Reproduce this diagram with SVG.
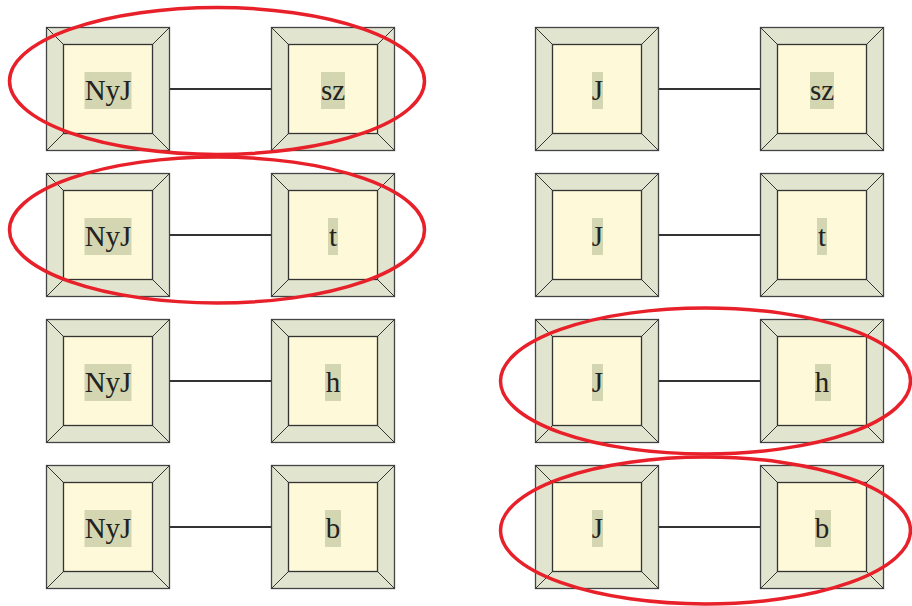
<svg xmlns="http://www.w3.org/2000/svg" xmlns:xlink="http://www.w3.org/1999/xlink" width="912" height="606" viewBox="0 0 912 606">
<style>
.outer{fill:#e1e4cf;stroke:#444;stroke-width:1.3}
.inner{fill:#fef9d8;stroke:#333;stroke-width:1.3}
.diag{stroke:#333;stroke-width:1}
.lbg{fill:#d3d6b0}
.lbl{font-family:"Liberation Serif","DejaVu Serif",serif;font-size:29px;fill:#222;text-anchor:middle}
.edge{stroke:#333;stroke-width:2;fill:none}
.hl{fill:none;stroke:#e8202a;stroke-width:3.5}
</style>
<defs>
<symbol id="box" overflow="visible">
<rect class="outer" x="0" y="0" width="123" height="123"/>
<line class="diag" x1="0" y1="0" x2="17" y2="17"/>
<line class="diag" x1="123" y1="0" x2="106" y2="17"/>
<line class="diag" x1="0" y1="123" x2="17" y2="106"/>
<line class="diag" x1="123" y1="123" x2="106" y2="106"/>
<rect class="inner" x="17" y="17" width="89" height="89"/>
</symbol>
</defs>
<rect width="912" height="606" fill="#fff"/>
<g id="connectors">
<line class="edge" x1="169.5" y1="89" x2="271.5" y2="89"/>
<line class="edge" x1="169.5" y1="235" x2="271.5" y2="235"/>
<line class="edge" x1="169.5" y1="381" x2="271.5" y2="381"/>
<line class="edge" x1="169.5" y1="527" x2="271.5" y2="527"/>
<line class="edge" x1="658.5" y1="89" x2="760.5" y2="89"/>
<line class="edge" x1="658.5" y1="235" x2="760.5" y2="235"/>
<line class="edge" x1="658.5" y1="381" x2="760.5" y2="381"/>
<line class="edge" x1="658.5" y1="527" x2="760.5" y2="527"/>
</g>
<g id="n1"><use href="#box" x="46.5" y="27.5"/><rect class="lbg" x="84.5" y="72" width="47" height="37"/><text class="lbl" x="108" y="100">NyJ</text></g>
<g id="n2"><use href="#box" x="271.5" y="27.5"/><rect class="lbg" x="321" y="72" width="24" height="37"/><text class="lbl" x="333" y="100">sz</text></g>
<g id="n3"><use href="#box" x="46.5" y="173.5"/><rect class="lbg" x="84.5" y="218" width="47" height="37"/><text class="lbl" x="108" y="246">NyJ</text></g>
<g id="n4"><use href="#box" x="271.5" y="173.5"/><rect class="lbg" x="328" y="218" width="10" height="37"/><text class="lbl" x="333" y="246">t</text></g>
<g id="n5"><use href="#box" x="46.5" y="319.5"/><rect class="lbg" x="84.5" y="364" width="47" height="37"/><text class="lbl" x="108" y="392">NyJ</text></g>
<g id="n6"><use href="#box" x="271.5" y="319.5"/><rect class="lbg" x="325" y="364" width="16" height="37"/><text class="lbl" x="333" y="392">h</text></g>
<g id="n7"><use href="#box" x="46.5" y="465.5"/><rect class="lbg" x="84.5" y="510" width="47" height="37"/><text class="lbl" x="108" y="538">NyJ</text></g>
<g id="n8"><use href="#box" x="271.5" y="465.5"/><rect class="lbg" x="325" y="510" width="16" height="37"/><text class="lbl" x="333" y="538">b</text></g>
<g id="n9"><use href="#box" x="535.5" y="27.5"/><rect class="lbg" x="592" y="72" width="11" height="37"/><text class="lbl" x="597.5" y="100">J</text></g>
<g id="n10"><use href="#box" x="760.5" y="27.5"/><rect class="lbg" x="810" y="72" width="24" height="37"/><text class="lbl" x="822" y="100">sz</text></g>
<g id="n11"><use href="#box" x="535.5" y="173.5"/><rect class="lbg" x="592" y="218" width="11" height="37"/><text class="lbl" x="597.5" y="246">J</text></g>
<g id="n12"><use href="#box" x="760.5" y="173.5"/><rect class="lbg" x="817" y="218" width="10" height="37"/><text class="lbl" x="822" y="246">t</text></g>
<g id="n13"><use href="#box" x="535.5" y="319.5"/><rect class="lbg" x="592" y="364" width="11" height="37"/><text class="lbl" x="597.5" y="392">J</text></g>
<g id="n14"><use href="#box" x="760.5" y="319.5"/><rect class="lbg" x="815" y="364" width="16" height="37"/><text class="lbl" x="822" y="392">h</text></g>
<g id="n15"><use href="#box" x="535.5" y="465.5"/><rect class="lbg" x="592" y="510" width="11" height="37"/><text class="lbl" x="597.5" y="538">J</text></g>
<g id="n16"><use href="#box" x="760.5" y="465.5"/><rect class="lbg" x="815" y="510" width="16" height="37"/><text class="lbl" x="822" y="538">b</text></g>
<g id="highlights">
<ellipse class="hl" cx="217" cy="81" rx="207.5" ry="73.5"/>
<ellipse class="hl" cx="217" cy="230" rx="207.5" ry="73"/>
<ellipse class="hl" cx="705.5" cy="381" rx="205" ry="73"/>
<ellipse class="hl" cx="705.5" cy="530.5" rx="205" ry="73.5"/>
</g>
</svg>
